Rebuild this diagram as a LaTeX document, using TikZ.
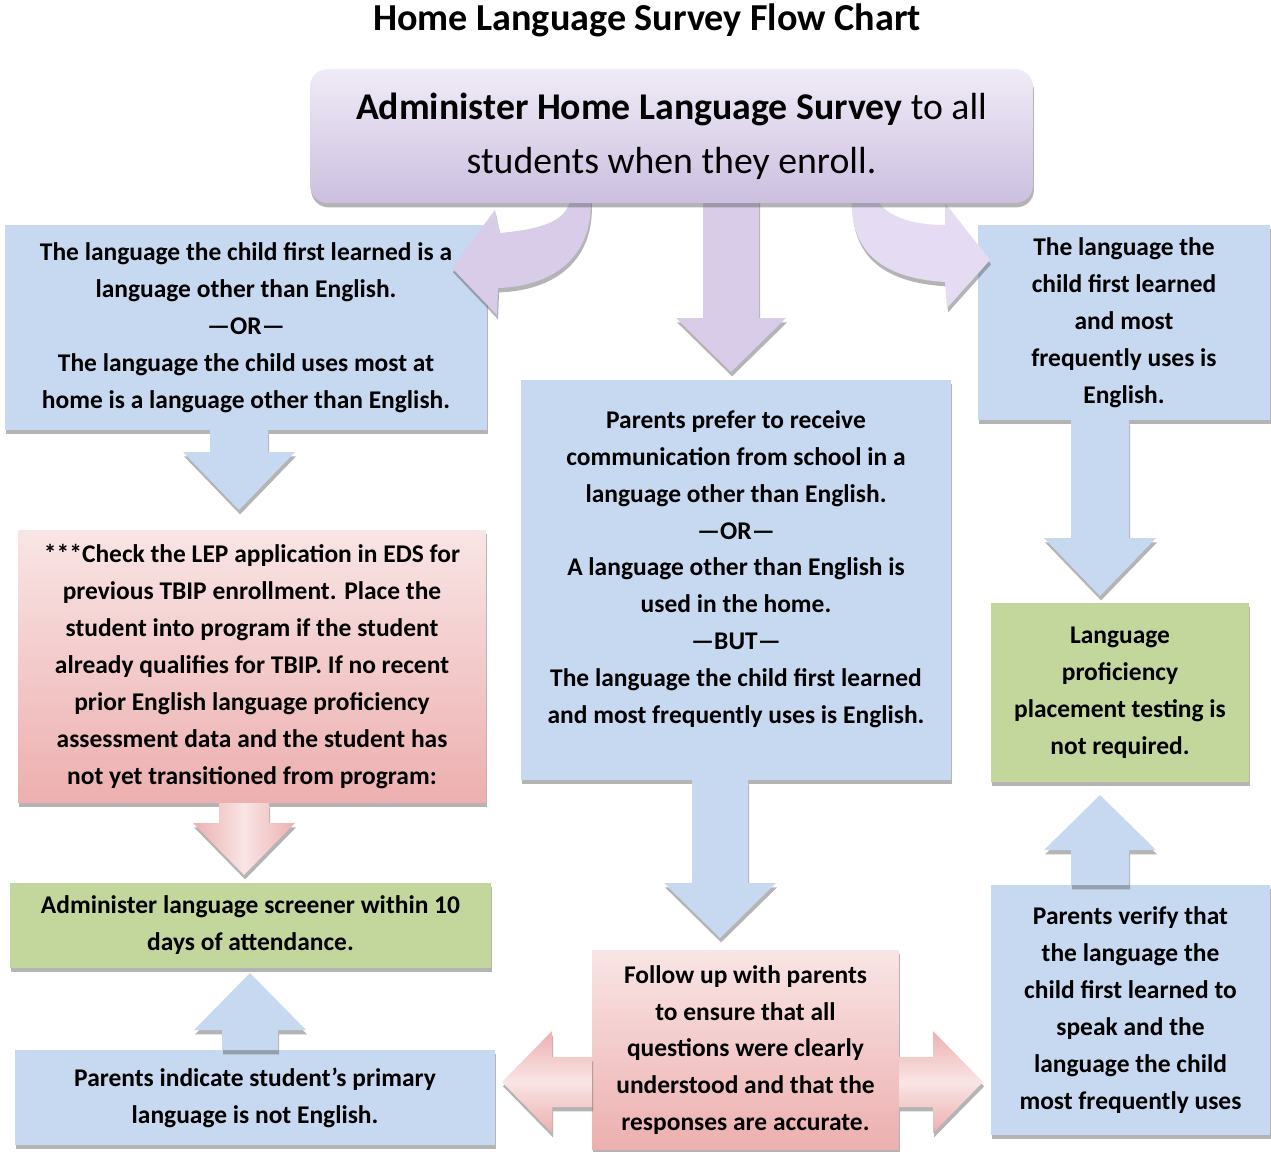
\documentclass[tikz,border=0pt]{standalone}
\usepackage{fontspec}
\setmainfont{Carlito}
\usetikzlibrary{positioning,shadows}

\definecolor{boxblue}{HTML}{C6D9F1}
\definecolor{boxgreen}{HTML}{C3D69B}
\definecolor{redtop}{HTML}{F9E5E5}
\definecolor{redbot}{HTML}{EDAFAF}
\definecolor{purtop}{HTML}{F0EBF7}
\definecolor{purbot}{HTML}{CCBFE0}
\definecolor{purarrow}{HTML}{D8CCE8}
\definecolor{purlight}{HTML}{E5DBF3}

% vertical block arrow: style, x, y start, y neck, y tip, half shaft, half head
\newcommand{\vblock}[7]{%
  \path[#1] (#2-#6,#3) -- (#2-#6,#4) -- (#2-#7,#4) -- (#2,#5) -- (#2+#7,#4) -- (#2+#6,#4) -- (#2+#6,#3) -- cycle;}
% horizontal block arrow: style, x start, x neck, x tip, y, half shaft, half head
\newcommand{\hblock}[7]{%
  \path[#1] (#2,#5-#6) -- (#3,#5-#6) -- (#3,#5-#7) -- (#4,#5) -- (#3,#5+#7) -- (#3,#5+#6) -- (#2,#5+#6) -- cycle;}

\tikzset{
  softshadow/.style={drop shadow={shadow xshift=0.6pt, shadow yshift=-2.5pt, opacity=0.45, fill=black!65}},
  box/.style={rectangle, align=center, inner sep=0pt, softshadow,
    font=\fontsize{14.5}{21}\selectfont\bfseries},
  bluebox/.style={box, fill=boxblue},
  greenbox/.style={box, fill=boxgreen},
  redbox/.style={box, top color=redtop, bottom color=redbot},
  topbox/.style={rectangle, rounded corners=10pt, align=center, inner sep=0pt, softshadow,
    top color=purtop, bottom color=purbot, font=\fontsize{21.5}{30.5}\selectfont},
  bluearrow/.style={fill=boxblue, softshadow},
  redvarrow/.style={left color=redbot, right color=redbot, middle color=redtop, softshadow},
  redharrow/.style={top color=redbot, bottom color=redbot, middle color=redtop, softshadow},
  purplearrow/.style={fill=#1, softshadow}
}

\begin{document}
\begin{tikzpicture}[x=0.02cm,y=-0.02cm]
\useasboundingbox (0,0) rectangle (1271,1152);

\node (title) at (647,20) {\fontsize{21.7}{24}\selectfont\bfseries Home Language Survey Flow Chart};

% left column
\node[bluebox, minimum width=9.64cm, minimum height=4.1cm] (first) at (246,327.5)
  {The language the child first learned is a\\ language other than English.\\ ---OR---\\
   The language the child uses most at\\ home is a language other than English.};
\node[redbox, minimum width=9.36cm, minimum height=5.46cm] (check) at (252,666.5)
  {***Check the LEP application in EDS for\\ previous TBIP enrollment. Place the\\
   student into program if the student\\ already qualifies for TBIP. If no recent\\
   prior English language proficiency\\ assessment data and the student has\\
   not yet transitioned from program:};
\node[greenbox, minimum width=9.62cm, minimum height=1.7cm] (screener) at (250.5,925.5)
  {Administer language screener within 10\\ days of attendance.};
\node[bluebox, minimum width=9.6cm, minimum height=1.9cm] (indicate) at (255,1097.5)
  {Parents indicate student’s primary\\ language is not English.};

% middle column
\node[bluebox, minimum width=8.6cm, minimum height=8cm] (prefer) at (736,580)
  {Parents prefer to receive\\ communication from school in a\\ language other than English.\\
   ---OR---\\ A language other than English is\\ used in the home.\\ ---BUT---\\
   The language the child first learned\\ and most frequently uses is English.\\[-0.43em]};
\node[redbox, minimum width=6.14cm, minimum height=4cm] (followup) at (745.5,1050)
  {Follow up with parents\\ to ensure that all\\ questions were clearly\\
   understood and that the\\ responses are accurate.};

% right column
\node[bluebox, minimum width=5.84cm, minimum height=3.9cm] (english) at (1124,322.5)
  {The language the\\ child first learned\\ and most\\ frequently uses is\\ English.};
\node[greenbox, minimum width=5.16cm, minimum height=3.58cm] (notreq) at (1120,692.5)
  {Language\\ proficiency\\ placement testing is\\ not required.};
\node[bluebox, minimum width=5.58cm, minimum height=5cm] (verify) at (1130.5,1010)
  {Parents verify that\\ the language the\\ child first learned to\\ speak and the\\
   language the child\\ most frequently uses};

% block arrows
\vblock{bluearrow}{239}{430}{452}{510}{29}{56}
\vblock{redvarrow}{244}{803}{823}{875}{25}{51}
\vblock{bluearrow}{250}{1050}{1030}{973}{28}{56}
\vblock{bluearrow}{720}{780}{883}{938}{28}{56}
\vblock{bluearrow}{1100}{420}{538}{596}{29}{56}
\vblock{bluearrow}{1100}{885}{850}{795}{29}{56}
\hblock{redharrow}{592}{552}{502}{1082}{25}{51}
\hblock{redharrow}{899}{933}{983}{1082}{25}{51}
\vblock{purplearrow=purarrow}{731}{190}{318}{372}{28}{55}

% curved arrows from the survey
\path[purplearrow=purarrow] (570,190) .. controls (574,222) and (540,229) .. (500,233)
  -- (495,210) -- (452,268) -- (497,315) -- (498,288)
  .. controls (560,286) and (597,250) .. (590,190) -- cycle;
\path[purplearrow=purlight] (873,190) .. controls (880,218) and (915,225) .. (945,225)
  -- (945,203) -- (990,260) -- (947,308) -- (945,282)
  .. controls (880,278) and (847,250) .. (852,190) -- cycle;

\node[topbox, minimum width=14.46cm, minimum height=2.68cm] (survey) at (671.5,136)
  {\textbf{Administer Home Language Survey} to all\\ students when they enroll.};
\end{tikzpicture}
\end{document}
